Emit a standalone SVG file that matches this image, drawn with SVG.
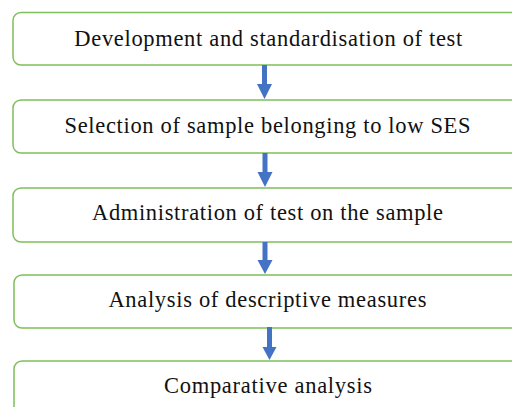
<svg xmlns="http://www.w3.org/2000/svg" width="512" height="407" viewBox="0 0 512 407">
<style>
.box{fill:#fff;stroke:#7fbf5a;stroke-width:1.5}
.t{font-family:"Liberation Serif","Times New Roman",serif;font-size:22.5px;fill:#111;text-anchor:middle}
.c{stroke:#4472c4;stroke-width:5;fill:none}
.h{fill:#4472c4}
</style>
<rect width="512" height="407" fill="#fff"/>
<g id="n1"><rect class="box" x="13" y="12.5" width="520" height="52.5" rx="8"/><text class="t" x="268.3" y="46" textLength="388" lengthAdjust="spacing">Development and standardisation of test</text></g>
<g id="n2"><rect class="box" x="13" y="100" width="520" height="53" rx="8"/><text class="t" x="267.5" y="133.3" textLength="406" lengthAdjust="spacing">Selection of sample belonging to low SES</text></g>
<g id="n3"><rect class="box" x="13" y="188" width="520" height="54" rx="8"/><text class="t" x="267.5" y="220" textLength="351" lengthAdjust="spacing">Administration of test on the sample</text></g>
<g id="n4"><rect class="box" x="14" y="275" width="520" height="53" rx="8"/><text class="t" x="267.4" y="307" textLength="318" lengthAdjust="spacing">Analysis of descriptive measures</text></g>
<g id="n5"><rect class="box" x="14" y="361" width="520" height="60" rx="8"/><text class="t" x="268" y="393" textLength="208" lengthAdjust="spacing">Comparative analysis</text></g>
<g id="connectors">
<line class="c" x1="264.5" y1="65" x2="264.5" y2="85"/><polygon class="h" points="257,84 272,84 264.5,99"/>
<line class="c" x1="265" y1="153" x2="265" y2="173"/><polygon class="h" points="257.5,172 272.5,172 265,187"/>
<line class="c" x1="265" y1="242" x2="265" y2="261"/><polygon class="h" points="257.5,260 272.5,260 265,274"/>
<line class="c" x1="269.5" y1="327" x2="269.5" y2="348"/><polygon class="h" points="262.5,347 276.5,347 269.5,360"/>
</g>
</svg>
